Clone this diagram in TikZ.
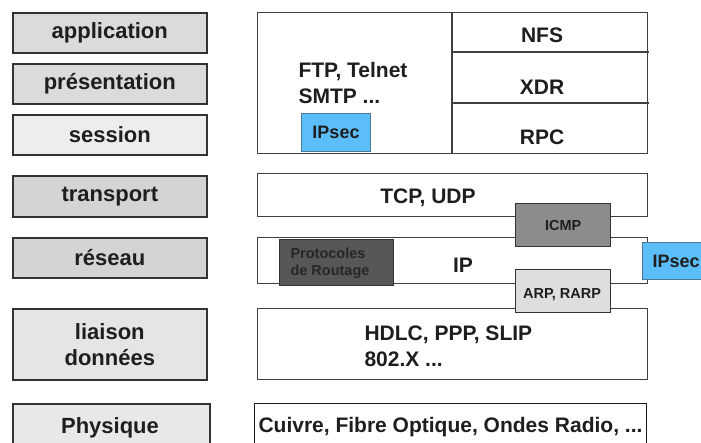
\documentclass[tikz,border=0pt]{standalone}
\usepackage{fontspec}
\setmainfont{Liberation Sans}
\definecolor{ipsecblue}{HTML}{5BBEF8}
\definecolor{ipsecedge}{HTML}{4A7A98}
\definecolor{txt}{HTML}{1E1E1E}
\begin{document}
\begin{tikzpicture}[x=1pt,y=-1pt,
  big/.style={font=\fontsize{21}{26}\selectfont\bfseries, text=txt},
  lbig/.style={font=\fontsize{22}{26}\selectfont\bfseries, text=txt},
  small/.style={font=\fontsize{14.5}{17}\selectfont\bfseries, text=txt},
  lbl/.style={draw=black!80, line width=1.6pt, fill=#1, minimum width=194pt,
     inner sep=0pt, anchor=north west, lbig, align=center},
  rbox/.style={draw=black!75, line width=1.3pt, fill=white, inner sep=0pt, anchor=north west},
  sbox/.style={draw=black!80, line width=1.3pt, fill=#1, inner sep=0pt, anchor=north west, small},
  ipsec/.style={draw=ipsecedge, line width=1pt, fill=ipsecblue, inner sep=0pt, anchor=north west,
     font=\fontsize{18}{21}\selectfont\bfseries, text=txt}
]
\useasboundingbox (0,0) rectangle (701,443);
\fill[white] (0,0) rectangle (701,443);

% left column
\node[lbl=black!14, minimum height=40pt] (app) at (12,12) {application};
\node[lbl=black!14, minimum height=40pt] (pres) at (12,63) {présentation};
\node[lbl=black!7, minimum height=40pt] (sess) at (12,114) {session};
\node[lbl=black!17, minimum height=41pt] (trans) at (12,175) {transport};
\node[lbl=black!17, minimum height=40pt] (res) at (12,237) {réseau};
\node[lbl=black!10, minimum height=71pt] (liai) at (12,308) {liaison\\données};
\node[lbl=black!9, minimum height=50pt, minimum width=197pt] (phys) at (12,403) {};
\node[lbig] (physt) at (110,428) {Physique};

% right column: application block
\node[rbox, minimum width=390pt, minimum height=141pt] (apps) at (257,12) {};
\coordinate (divtop) at (452,12);
\coordinate (divbot) at (452,153);
\draw[draw=black!75, line width=1.3pt] (divtop) -- (divbot);
\coordinate (h1a) at (452,52);  \coordinate (h1b) at (649,52);
\coordinate (h2a) at (452,103); \coordinate (h2b) at (649,103);
\draw[draw=black!75, line width=1.3pt] (h1a) -- (h1b);
\draw[draw=black!75, line width=1.3pt] (h2a) -- (h2b);
\node[big] (nfs) at (542,35) {NFS};
\node[big] (xdr) at (542,87) {XDR};
\node[big] (rpc) at (542,137) {RPC};
\node[big, anchor=west, align=left] (ftp) at (295,83) {FTP, Telnet\\SMTP ...};
\node[ipsec, minimum width=69pt, minimum height=38pt] (ipsec1) at (301,113) {IPsec};

% transport
\node[rbox, minimum width=390pt, minimum height=43pt] (tcp) at (257,173) {};
\node[big] (tcpt) at (428,198) {TCP, UDP};

% network
\node[rbox, minimum width=390pt, minimum height=46pt] (ip) at (257,237) {};
\node[big] (ipt) at (463,265) {IP};
\node[sbox=black!66, minimum width=114pt, minimum height=46pt] (route) at (279,239) {};
\node[small, text=black!85, anchor=west, align=left] (routet) at (287,263) {Protocoles\\de Routage};
\node[sbox=black!45, minimum width=95pt, minimum height=43pt] (icmp) at (515,203) {ICMP};

% data link
\node[rbox, minimum width=390pt, minimum height=71pt] (hdlc) at (257,308) {};
\node[big, anchor=west, align=left] (hdlct) at (361,346) {HDLC, PPP, SLIP\\802.X ...};
\node[sbox=black!13, minimum width=95pt, minimum height=43pt] (arp) at (515,269) {};
\node[small] (arpt) at (562,295) {ARP, RARP};

\node[ipsec, minimum width=70pt, minimum height=37pt, text width=60pt, align=left] (ipsec2) at (642,242) {\hspace*{5pt}IPsec};

% physical
\node[rbox, draw=black!90, minimum width=392pt, minimum height=50pt] (cu) at (254,403) {};
\node[big, anchor=west] (cut) at (255,427) {Cuivre, Fibre Optique, Ondes Radio, ...};
\end{tikzpicture}
\end{document}
